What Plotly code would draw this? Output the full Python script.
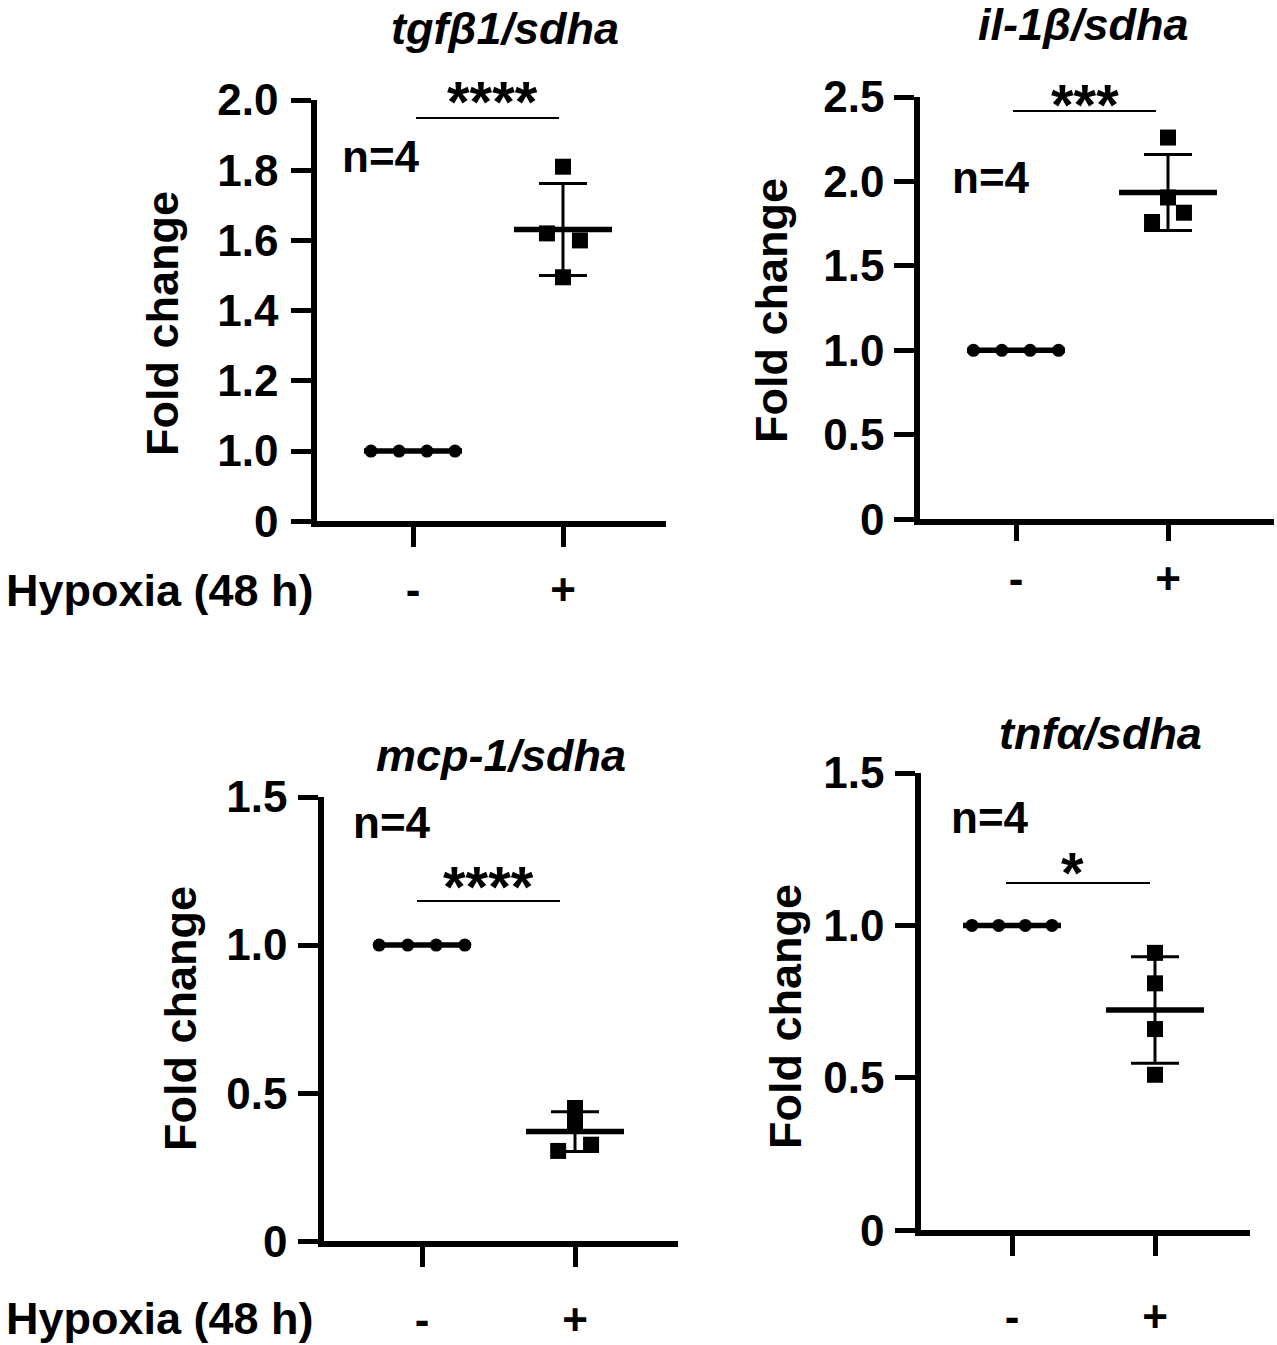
import numpy as np
import plotly.graph_objects as go

W, H = 1277, 1345

# ---------------- data ----------------
groups = ["-", "+"]
panel_titles = ["tgfβ1/sdha", "il-1β/sdha", "mcp-1/sdha", "tnfα/sdha"]
significance = ["****", "***", "****", "*"]
n_label = "n=4"

tgfb1_ctrl = [1.0, 1.0, 1.0, 1.0]
tgfb1_hyp = [1.81, 1.62, 1.60, 1.495]
il1b_ctrl = [1.0, 1.0, 1.0, 1.0]
il1b_hyp = [2.26, 1.905, 1.815, 1.76]
mcp1_ctrl = [1.0, 1.0, 1.0, 1.0]
mcp1_hyp = [0.45, 0.40, 0.326, 0.305]
tnfa_ctrl = [1.0, 1.0, 1.0, 1.0]
tnfa_hyp = [0.91, 0.81, 0.66, 0.51]

tgfb1_ticks = [0, 1.0, 1.2, 1.4, 1.6, 1.8, 2.0]
tgfb1_ticktext = ["0", "1.0", "1.2", "1.4", "1.6", "1.8", "2.0"]
il1b_ticks = [0, 0.5, 1.0, 1.5, 2.0, 2.5]
il1b_ticktext = ["0", "0.5", "1.0", "1.5", "2.0", "2.5"]
mcp1_ticks = [0, 0.5, 1.0, 1.5]
mcp1_ticktext = ["0", "0.5", "1.0", "1.5"]
tnfa_ticks = [0, 0.5, 1.0, 1.5]
tnfa_ticktext = ["0", "0.5", "1.0", "1.5"]

# horizontal scatter of overlapping points (x-units)
ctrl_jitter = [-0.28, -0.093, 0.093, 0.28]
hyp_jitter = [
    [0.0, -0.107, 0.113, 0.0],
    [0.0, 0.0, 0.105, -0.105],
    [0.0, 0.0, 0.105, -0.11],
    [0.0, 0.0, 0.0, 0.0],
]


# broken axis for first panel: 0..1 compressed, 1..2 at 0.2 per unit
def t_broken(v):
    v = np.asarray(v, dtype=float)
    return np.where(v <= 1.0, v, 1.0 + (v - 1.0) / 0.2)


def t_lin(v):
    return np.asarray(v, dtype=float)


# ---------------- layout (pixel geometry) ----------------
LW = 5.5
panels = [
    dict(x0=314, x1=666, t0=413, t1=563, ytop=100, ybot=524, ymax=6.0,
         ctrl=tgfb1_ctrl, hyp=tgfb1_hyp, tf=t_broken,
         tv=t_broken(tgfb1_ticks), tt=tgfb1_ticktext,
         xso=5, yso=4, xtl=20,
         title=(505, 28), ylab=(163, 324), n=(381, 157),
         star=(492, 101), sig=(416, 559, 118), hyp_lab=(4, 590)),
    dict(x0=917, x1=1274, t0=1016, t1=1168, ytop=97, ybot=522, ymax=2.5,
         ctrl=il1b_ctrl, hyp=il1b_hyp, tf=t_lin,
         tv=il1b_ticks, tt=il1b_ticktext,
         xso=0, yso=1, xtl=16,
         title=(1083, 24), ylab=(771, 311), n=(991, 177),
         star=(1085, 104), sig=(1013, 1156, 111), hyp_lab=None),
    dict(x0=321, x1=678, t0=422, t1=575, ytop=797, ybot=1244, ymax=1.5,
         ctrl=mcp1_ctrl, hyp=mcp1_hyp, tf=t_lin,
         tv=mcp1_ticks, tt=mcp1_ticktext,
         xso=15, yso=2, xtl=20,
         title=(501, 755), ylab=(180, 1019), n=(392, 822),
         star=(488, 886), sig=(417, 560, 901), hyp_lab=(4, 1318)),
    dict(x0=918, x1=1250, t0=1012, t1=1155, ytop=773, ybot=1233, ymax=1.5,
         ctrl=tnfa_ctrl, hyp=tnfa_hyp, tf=t_lin,
         tv=tnfa_ticks, tt=tnfa_ticktext,
         xso=23, yso=2, xtl=20,
         title=(1100, 733), ylab=(785, 1017), n=(990, 817),
         star=(1072, 872), sig=(1006, 1150, 883), hyp_lab=None),
]

FONT = "Liberation Sans, Arial, Helvetica, sans-serif"
fig = go.Figure()
annotations = []
shapes = []

for i, p in enumerate(panels):
    k = "" if i == 0 else str(i + 1)
    xa, ya = "x" + k, "y" + k
    # domain edges (axis line is drawn half a linewidth outside)
    dx0 = p["x0"] + LW / 2
    dyb = p["ybot"] - LW / 2
    spacing = p["t1"] - p["t0"]
    xr = [(dx0 - p["t0"]) / spacing, (p["x1"] - p["t0"]) / spacing]
    tf = p["tf"]

    for gi, (vals, sym, size, jit) in enumerate([
        (p["ctrl"], "circle", 13, ctrl_jitter),
        (p["hyp"], "square", 16, hyp_jitter[i]),
    ]):
        v = np.asarray(vals, dtype=float)
        m = v.mean()
        sd = v.std(ddof=1)
        tm = float(tf([m])[0])
        up = float(tf([m + sd])[0]) - tm
        dn = tm - float(tf([m - sd])[0])
        # points
        fig.add_trace(go.Scatter(
            x=[gi + j for j in jit], y=tf(v), mode="markers",
            marker=dict(symbol=sym, size=size, color="black",
                        line=dict(width=0)),
            xaxis=xa, yaxis=ya, showlegend=False, cliponaxis=False))
        # SD error bar
        fig.add_trace(go.Scatter(
            x=[gi], y=[tm], mode="markers",
            marker=dict(size=1, color="rgba(0,0,0,0)"),
            error_y=dict(type="data", symmetric=False, array=[up],
                         arrayminus=[dn], color="black", thickness=3,
                         width=24),
            xaxis=xa, yaxis=ya, showlegend=False, cliponaxis=False))
        # mean line
        hw = 49 / spacing
        fig.add_trace(go.Scatter(
            x=[gi - hw, gi + hw], y=[tm, tm], mode="lines",
            line=dict(color="black", width=5.5),
            xaxis=xa, yaxis=ya, showlegend=False, cliponaxis=False))

    fig.layout["xaxis" + k] = dict(
        domain=[dx0 / W, p["x1"] / W], range=xr, anchor=ya,
        automargin=False,
        showgrid=False, zeroline=False, showline=True, linecolor="black",
        linewidth=LW, ticks="outside", ticklen=p["xtl"], tickwidth=5,
        tickcolor="black", tickvals=[0, 1], ticktext=groups,
        ticklabelstandoff=p["xso"],
        tickfont=dict(family=FONT, size=44, color="black", weight="bold"),
        fixedrange=True)
    fig.layout["yaxis" + k] = dict(
        domain=[1 - dyb / H, 1 - p["ytop"] / H], range=[0, p["ymax"]],
        anchor=xa, automargin=False, showgrid=False, zeroline=False,
        showline=True,
        linecolor="black", linewidth=LW, ticks="outside", ticklen=20,
        tickwidth=5, tickcolor="black", tickvals=list(p["tv"]),
        ticktext=p["tt"], ticklabelstandoff=p["yso"],
        tickfont=dict(family=FONT, size=44, color="black", weight="bold"),
        fixedrange=True)

    def px(x, y):
        return x / W, 1 - y / H

    tx, ty = px(*p["title"])
    annotations.append(dict(
        x=tx, y=ty, xref="paper", yref="paper", text=panel_titles[i],
        showarrow=False, xanchor="center", yanchor="middle",
        font=dict(family=FONT, size=45, color="black", weight="bold",
                  style="italic")))
    lx, ly = px(*p["ylab"])
    annotations.append(dict(
        x=lx, y=ly, xref="paper", yref="paper", text="Fold change",
        textangle=-90, showarrow=False, xanchor="center", yanchor="middle",
        font=dict(family=FONT, size=45, color="black", weight="bold")))
    nx, ny = px(*p["n"])
    annotations.append(dict(
        x=nx, y=ny, xref="paper", yref="paper", text=n_label,
        showarrow=False, xanchor="center", yanchor="middle",
        font=dict(family=FONT, size=44, color="black", weight="bold")))
    sx, sy = px(*p["star"])
    annotations.append(dict(
        x=sx, y=sy, xref="paper", yref="paper", text=significance[i],
        showarrow=False, xanchor="center", yanchor="middle",
        font=dict(family=FONT, size=58, color="black", weight="bold")))
    a, b, c = p["sig"]
    shapes.append(dict(type="line", xref="paper", yref="paper",
                       x0=a / W, x1=b / W, y0=1 - c / H, y1=1 - c / H,
                       line=dict(color="black", width=1.8)))
    if p["hyp_lab"]:
        hx, hy = px(*p["hyp_lab"])
        annotations.append(dict(
            x=hx, y=hy, xref="paper", yref="paper", text="Hypoxia (48 h)",
            showarrow=False, xanchor="left", yanchor="middle",
            font=dict(family=FONT, size=45, color="black", weight="bold")))

fig.update_layout(
    width=W, height=H, margin=dict(l=0, r=0, t=0, b=0, autoexpand=False),
    paper_bgcolor="white", plot_bgcolor="white",
    annotations=annotations, shapes=shapes, showlegend=False)

fig.write_html(
    "out.html",
    config={"displayModeBar": False, "staticPlot": True},
    post_script="document.body.style.margin='0';"
                "document.body.style.overflow='hidden';")
